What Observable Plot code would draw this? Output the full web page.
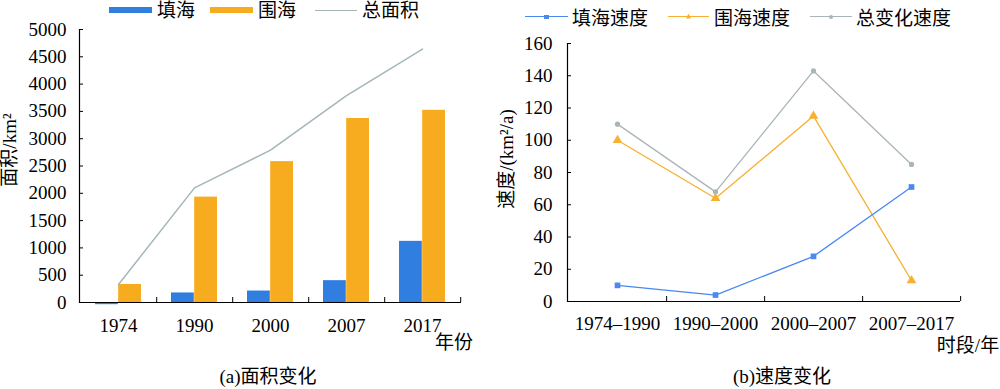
<!DOCTYPE html>
<html>
<head>
<meta charset="utf-8">
<script src="https://cdn.jsdelivr.net/npm/d3@7"></script>
<script src="https://cdn.jsdelivr.net/npm/@observablehq/plot@0.6"></script>
<style>
  body { margin: 0; background: #fff; }
  #root { position: relative; width: 1000px; height: 389px; overflow: hidden;
          font-family: "Liberation Serif", "Noto Sans CJK SC", serif; color: #000; }
  #root svg { position: absolute; top: 0; }
  #root svg text { font-family: "Liberation Serif", serif; font-variant-numeric: normal; }
  .lab { position: absolute; white-space: nowrap; line-height: 1; font-size: 19px; }
</style>
</head>
<body>
<div id="root"></div>
<script>
// ---- data: (a) area change ----
const years = ["1974", "1990", "2000", "2007", "2017"];
const fillArea = [-40, 175, 210, 400, 1120];       // 填海
const encloseArea = [330, 1930, 2580, 3370, 3520]; // 围海
const totalArea = [330, 2100, 2790, 3790, 4640];   // 总面积
const areaTicks = [0, 500, 1000, 1500, 2000, 2500, 3000, 3500, 4000, 4500, 5000];

// ---- data: (b) speed change ----
const periods = ["1974–1990", "1990–2000", "2000–2007", "2007–2017"];
const fillSpeed = [10, 4, 28, 71];
const encloseSpeed = [100, 64, 115, 13];
const totalSpeed = [110, 68, 143, 85];
const speedTicks = [0, 20, 40, 60, 80, 100, 120, 140, 160];

const BLUE = "#2f7ee0", ORANGE = "#f7ab1e", GRAY = "#a4b6ba";
const LBLUE = "#4a88f2", LORANGE = "#f7b030", LGRAY = "#a9b5b8";
const FONT = "'Liberation Serif', 'Noto Sans CJK SC', serif";
const NUMFONT = "Liberation Serif";

const root = document.getElementById("root");

// ---------- left chart ----------
const areaRows = years.map((y, i) => ({year: y, fill: fillArea[i], enclose: encloseArea[i], total: totalArea[i]}));
const lW = 480, lML = 79, lMR = 19;
const lBand = (lW - lML - lMR) / years.length;

const left = Plot.plot({
  width: lW, height: 389,
  marginTop: 29, marginBottom: 87, marginLeft: lML, marginRight: lMR,
  style: {fontFamily: FONT, fontSize: "19px", background: "transparent", color: "#000", overflow: "visible"},
  x: {type: "band", domain: years, padding: 0, axis: null},
  y: {domain: [0, 5000], axis: null},
  marks: [
    Plot.barY(areaRows, {x: "year", y: "fill", fill: BLUE, insetLeft: 15, insetRight: lBand / 2}),
    Plot.barY(areaRows, {x: "year", y: "enclose", fill: ORANGE, insetLeft: lBand / 2, insetRight: 15}),
    Plot.line(areaRows, {x: "year", y: "total", stroke: GRAY, strokeWidth: 1.5}),
    Plot.frame({anchor: "left", stroke: "#000", strokeWidth: 1.2}),
    Plot.ruleY([0], {stroke: "#000", strokeWidth: 1.2}),
    Plot.axisY(areaTicks, {tickSize: 0, tickPadding: 13, tickFormat: d => String(d), label: null, fontFamily: NUMFONT, fontSize: 19, fontVariant: "normal"}),
    Plot.axisY(areaTicks, {tickSize: 4, dx: 4, tickFormat: () => "", label: null, stroke: "#000"}),
    Plot.axisX(years, {tickSize: 0, tickPadding: 16, label: null, fontFamily: NUMFONT, fontSize: 19}),
    Plot.axisX(years, {tickSize: 5, dx: lBand / 2, dy: -5, tickFormat: () => "", label: null, stroke: "#000"})
  ]
});
left.style.left = "0px";
root.appendChild(left);

// ---------- right chart ----------
const speedRows = [];
periods.forEach((p, i) => {
  speedRows.push({period: p, series: "fill", v: fillSpeed[i]});
  speedRows.push({period: p, series: "enclose", v: encloseSpeed[i]});
  speedRows.push({period: p, series: "total", v: totalSpeed[i]});
});
const rW = 520, rML = 87, rMR = 40;
const rBand = (rW - rML - rMR) / periods.length;
const sel = s => speedRows.filter(d => d.series === s);

const right = Plot.plot({
  width: rW, height: 389,
  marginTop: 43, marginBottom: 88, marginLeft: rML, marginRight: rMR,
  style: {fontFamily: FONT, fontSize: "19px", background: "transparent", color: "#000", overflow: "visible"},
  x: {type: "band", domain: periods, padding: 0, axis: null},
  y: {domain: [0, 160], axis: null},
  marks: [
    Plot.line(sel("total"), {x: "period", y: "v", stroke: LGRAY, strokeWidth: 1.3}),
    Plot.line(sel("enclose"), {x: "period", y: "v", stroke: LORANGE, strokeWidth: 1.3}),
    Plot.line(sel("fill"), {x: "period", y: "v", stroke: LBLUE, strokeWidth: 1.3}),
    Plot.dot(sel("total"), {x: "period", y: "v", fill: LGRAY, r: 2.6, symbol: "circle"}),
    Plot.dot(sel("enclose"), {x: "period", y: "v", fill: LORANGE, r: 3.6, symbol: "triangle"}),
    Plot.dot(sel("fill"), {x: "period", y: "v", fill: LBLUE, r: 3.2, symbol: "square"}),
    Plot.frame({anchor: "left", stroke: "#000", strokeWidth: 1.2}),
    Plot.ruleY([0], {stroke: "#000", strokeWidth: 1.2}),
    Plot.axisY(speedTicks, {tickSize: 0, tickPadding: 15, tickFormat: d => String(d), label: null, fontFamily: NUMFONT, fontSize: 19, fontVariant: "normal"}),
    Plot.axisY(speedTicks, {tickSize: 4, dx: 4, tickFormat: () => "", label: null, stroke: "#000"}),
    Plot.axisX(periods, {tickSize: 0, tickPadding: 15, label: null, fontFamily: NUMFONT, fontSize: 19}),
    Plot.axisX(periods, {tickSize: 5, dx: rBand / 2, dy: -5, tickFormat: () => "", label: null, stroke: "#000"})
  ]
});
right.style.left = "480px";
root.appendChild(right);

// ---------- HTML text & legends ----------
function center(text, cx, cy, rot) {
  const d = document.createElement("div");
  d.className = "lab";
  d.textContent = text;
  d.style.left = cx + "px";
  d.style.top = cy + "px";
  d.style.transform = "translate(-50%,-50%)" + (rot ? " rotate(" + rot + "deg)" : "");
  root.appendChild(d);
}
function leftText(text, x, cy) {
  const d = document.createElement("div");
  d.className = "lab";
  d.textContent = text;
  d.style.left = x + "px";
  d.style.top = cy + "px";
  d.style.transform = "translate(0,-50%)";
  root.appendChild(d);
}
function box(x, y, w, h, color, extra) {
  const d = document.createElement("div");
  d.style.position = "absolute";
  d.style.left = x + "px"; d.style.top = y + "px";
  d.style.width = w + "px"; d.style.height = h + "px";
  d.style.background = color;
  if (extra) Object.assign(d.style, extra);
  root.appendChild(d);
}

center("面积/km²", 9, 150, -90);
center("年份", 454, 342);
center("(a)面积变化", 268, 376);
center("速度/(km²/a)", 506, 159, -90);
center("时段/年", 968, 345);
center("(b)速度变化", 782, 376);

// left legend
box(109, 7, 43, 6, BLUE);
leftText("填海", 157, 10);
box(210, 7, 43, 6, ORANGE);
leftText("围海", 258, 10);
box(315, 9.5, 42, 1.5, GRAY);
leftText("总面积", 362, 10);

// right legend
box(525, 16, 43, 1.3, LBLUE);
box(544, 14.5, 4.5, 4.5, LBLUE);
leftText("填海速度", 572, 18);
box(668, 16, 41, 1.3, LORANGE);
box(686, 13.5, 5, 5, LORANGE, {clipPath: "polygon(50% 0, 100% 100%, 0 100%)"});
leftText("围海速度", 714, 18);
box(810, 16, 42, 1.3, LGRAY);
box(829, 14.5, 4, 4, LGRAY, {borderRadius: "50%"});
leftText("总变化速度", 856, 18);
</script>
</body>
</html>
